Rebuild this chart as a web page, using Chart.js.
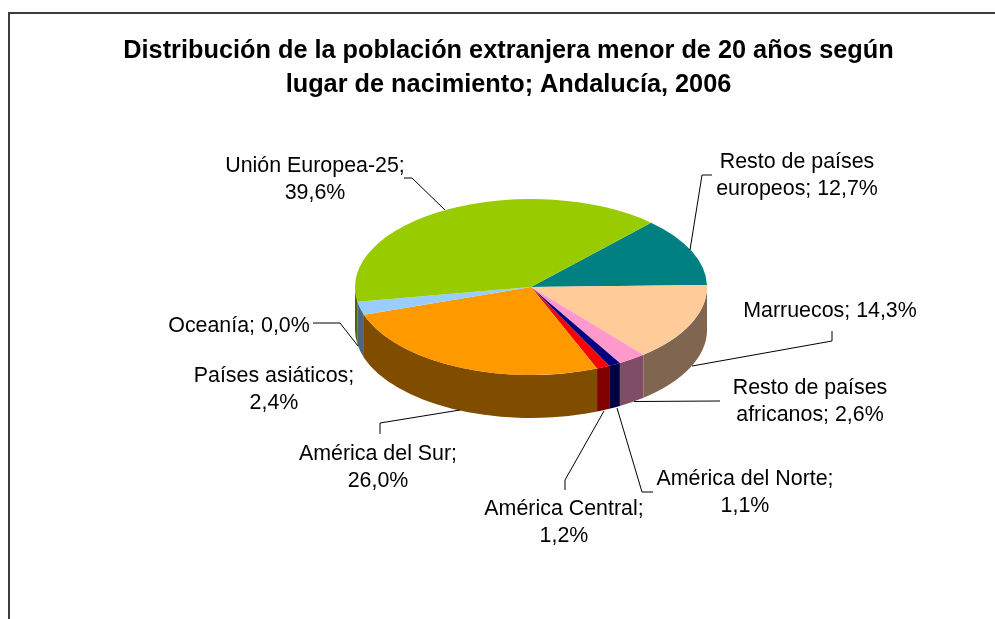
<!DOCTYPE html>
<html lang="es">
<head>
<meta charset="utf-8">
<style>html,body{margin:0;padding:0;background:#fff}#w{position:relative;width:995px;height:619px;overflow:hidden}</style>
<script src="https://cdn.jsdelivr.net/npm/chart.js@4/dist/chart.umd.min.js"></script>
</head>
<body>
<div id="w"><canvas id="c" width="995" height="619"></canvas></div>
<script>
const categories = ["Resto de países europeos","Marruecos","Resto de países africanos","América del Norte","América Central","América del Sur","Países asiáticos","Oceanía","Unión Europea-25"];
const shares = [12.7,14.3,2.6,1.1,1.2,26.0,2.4,0.0,39.6];
const titleLines = ["Distribución de la población extranjera menor de 20 años según","lugar de nacimiento; Andalucía, 2006"];
const topColors = ["#008080","#ffcc99","#ff99cc","#000080","#ff0000","#ff9900","#99ccff","#99ccff","#99cc00"];
const wallColors = ["#004040","#806650","#804d66","#000040","#800000","#804d00","#4d6680","#4d6680","#4d6600"];

// Label placement: words on the first line, centre of text, leader polyline
const labelLayout = [
  {words:3,x:797,y:162,line:[[690,250],[702,175],[712,175]]},
  {words:2,x:830,y:311,line:[[692,366],[832,341],[832,331]]},
  {words:3,x:810,y:388,line:[[634,401.5],[720,401]]},
  {words:3,x:745,y:479,line:[[617,408],[642,492],[653,492]]},
  {words:2,x:564,y:509,line:[[604,411],[565,480],[565,490]]},
  {words:3,x:378,y:454,line:[[460,410],[380,423],[380,434]]},
  {words:2,x:274,y:376,line:null},
  {words:2,x:239,y:326,line:[[313,323],[340,323],[358,346]]},
  {words:2,x:315,y:166,line:[[445,210],[412,178],[404,178]]}
];

const CX = 531, CY = 287, R = 176, SQUASH = 0.5, DEPTH = 43;

const pie3d = {
  id:'pie3d',
  beforeDraw(chart){
    const c = chart.ctx;
    c.save();
    c.strokeStyle = '#3c3c3c';
    c.lineWidth = 2;
    c.beginPath();
    c.moveTo(9,630); c.lineTo(9,13); c.lineTo(1000,13);
    c.stroke();
    c.restore();
  },
  beforeDatasetsDraw(chart){
    const c = chart.ctx, arcs = chart.getDatasetMeta(0).data;
    const ox = arcs[0].x, oy = arcs[0].y;
    c.save();
    c.translate(CX,CY); c.scale(1,SQUASH); c.translate(-ox,-oy);
    const tau = Math.PI*2;
    arcs.forEach((a,i)=>{
      for(let k=-1;k<=1;k++){
        const s = Math.max(a.startAngle+k*tau,0), e = Math.min(a.endAngle+k*tau,Math.PI);
        if(e<=s) continue;
        c.beginPath();
        c.arc(ox,oy,a.outerRadius,s,e);
        c.arc(ox,oy+DEPTH/SQUASH,a.outerRadius,e,s,true);
        c.closePath();
        c.fillStyle = wallColors[i];
        c.fill();
      }
    });
  },
  afterDatasetsDraw(chart){
    chart.ctx.restore();
  },
  afterDraw(chart){
    const c = chart.ctx;
    c.save();
    c.strokeStyle = '#000'; c.lineWidth = 1;
    labelLayout.forEach(l=>{
      if(!l.line) return;
      c.beginPath();
      l.line.forEach((p,i)=> i? c.lineTo(p[0],p[1]) : c.moveTo(p[0],p[1]));
      c.stroke();
    });
    c.fillStyle = '#000';
    c.font = '21.4px "Liberation Sans", Arial, sans-serif';
    c.textAlign = 'center'; c.textBaseline = 'middle';
    categories.forEach((name,i)=>{
      const l = labelLayout[i];
      const text = name+'; '+shares[i].toFixed(1).replace('.',',')+'%';
      const w = text.split(' ');
      const first = w.slice(0,l.words).join(' '), second = w.slice(l.words).join(' ');
      c.fillText(first,l.x,l.y);
      if(second) c.fillText(second,l.x,l.y+27);
    });
    c.restore();
  }
};

new Chart(document.getElementById('c'),{
  type:'pie',
  data:{labels:categories,datasets:[{data:shares,backgroundColor:topColors,borderWidth:0,hoverOffset:0,radius:R}]},
  options:{
    responsive:false,animation:false,rotation:43,
    layout:{padding:{left:22,right:0,top:0,bottom:0}},
    events:[],
    plugins:{
      legend:{display:false},tooltip:{enabled:false},
      title:{display:true,text:titleLines,color:'#000',
        font:{family:'"Liberation Sans", Arial, sans-serif',size:25.3,weight:'bold',lineHeight:1.344},
        padding:{top:34,bottom:10}}
    }
  },
  plugins:[pie3d]
});
</script>
</body>
</html>
